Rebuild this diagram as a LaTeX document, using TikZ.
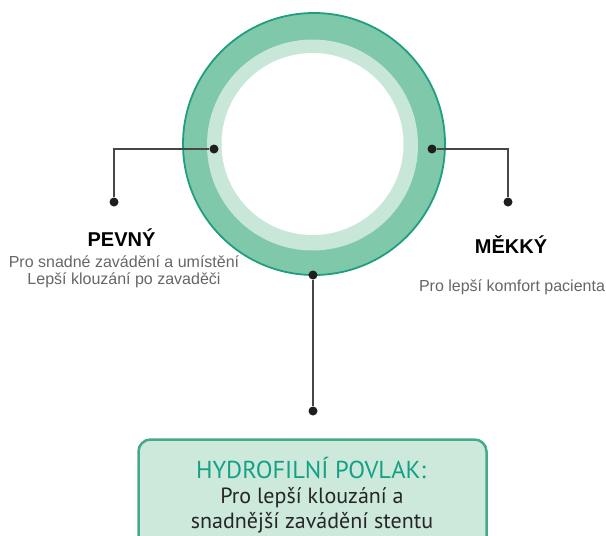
\documentclass[tikz,border=0pt]{standalone}
\usepackage{fontspec}
\usetikzlibrary{positioning}
\setmainfont{Liberation Sans}
\newfontfamily\boxfont{PT Sans}
\definecolor{ringmid}{HTML}{80C8AA}
\definecolor{ringedge}{HTML}{1F9E80}
\definecolor{ringlight}{HTML}{C9E7D9}
\definecolor{boxfill}{HTML}{CDE9DB}
\definecolor{boxedge}{HTML}{46A98B}
\definecolor{boxtitle}{HTML}{15A086}
\definecolor{subgray}{HTML}{666666}
\tikzset{
  dot/.style={circle, fill=black!88, inner sep=0pt, minimum size=9pt},
  conn/.style={draw=black!72, line width=1.4pt},
  head/.style={font=\fontsize{20}{24}\selectfont\bfseries, text=black, anchor=base},
  sub/.style={font=\fontsize{16}{16.5}\selectfont, text=subgray, align=center},
  boxtext/.style={font=\boxfont\fontsize{22}{25}\selectfont, align=center},
}
\begin{document}
\begin{tikzpicture}[x=1pt, y=-1pt]
  \useasboundingbox (0, 0) rectangle (606, 536) ;
  \clip (0, 0) rectangle (606, 536) ;
  % ring
  \fill[ringmid, draw=ringedge, line width=1.8pt] (314, 144) circle (131) ;
  \fill[ringlight] (312.5, 145) circle (105.5) ;
  \fill[white] (312.5, 144) circle (91) ;
  % points on the ring
  \node[dot] (pl) at (214, 149) {} ;
  \node[dot] (pr) at (432, 149) {} ;
  \node[dot] (pb) at (313, 275) {} ;
  % end points
  \node[dot] (el) at (114, 202) {} ;
  \node[dot] (er) at (508, 202) {} ;
  \node[dot] (eb) at (313, 411) {} ;
  \draw[conn] (pl) -| (el) ;
  \draw[conn] (pr) -| (er) ;
  \draw[conn] (pb) -- (eb) ;
  % labels
  \node[head] (pevny) at (121.5, 246.5) {PEVNÝ} ;
  \node[sub] (pevnytxt) at (124, 272)
    {Pro snadné zavádění a umístění\\Lepší klouzání po zavaděči} ;
  \node[head] (mekky) at (511, 253) {MĚKKÝ} ;
  \node[sub, anchor=base] (mekkytxt) at (512, 291.5) {Pro lepší komfort pacienta} ;
  % coating box
  \draw[fill=boxfill, draw=boxedge, line width=2.5pt, rounded corners=12pt]
    (138.5, 439.5) rectangle (486.5, 560) ;
  \node[boxtext, font=\boxfont\fontsize{24.5}{26}\selectfont, text=boxtitle, anchor=base]
    (povlak) at (311, 478) {HYDROFILNÍ POVLAK:} ;
  \node[boxtext, text=black!85, anchor=base] (povlaktxt1) at (312, 503)
    {Pro lepší klouzání a} ;
  \node[boxtext, text=black!85, anchor=base] (povlaktxt2) at (312, 528)
    {snadnější zavádění stentu} ;
\end{tikzpicture}
\end{document}
